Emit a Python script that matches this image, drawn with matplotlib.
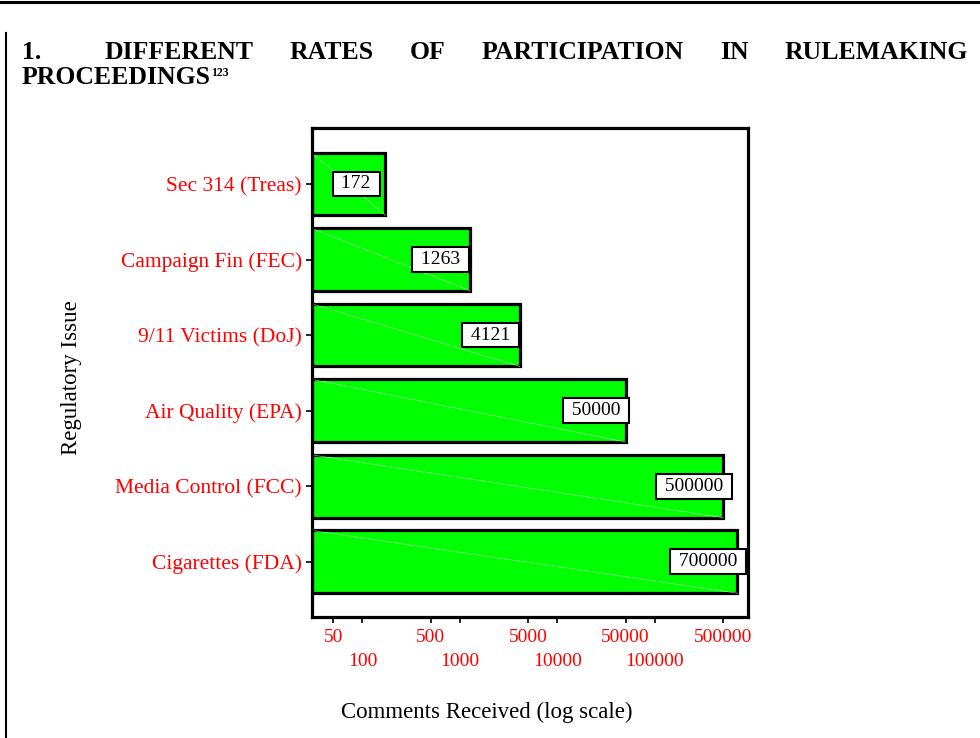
import numpy as np
import matplotlib
matplotlib.use("Agg")
import matplotlib.pyplot as plt
from matplotlib.lines import Line2D

plt.rcParams["font.family"] = ["Liberation Serif", "DejaVu Serif"]

# data
issues = ["Sec 314 (Treas)", "Campaign Fin (FEC)", "9/11 Victims (DoJ)",
          "Air Quality (EPA)", "Media Control (FCC)", "Cigarettes (FDA)"]
comments = [172, 1263, 4121, 50000, 500000, 700000]
ticks_upper = [50, 500, 5000, 50000, 500000]
ticks_lower = [100, 1000, 10000, 100000]
title_num = "1."
title_words = ["DIFFERENT", "RATES", "OF", "PARTICIPATION", "IN", "RULEMAKING"]
title_line2 = "PROCEEDINGS"
footnote = "123"

W, H = 980, 738
fig = plt.figure(figsize=(W / 100, H / 100), dpi=100)

# page rules
fig.add_artist(Line2D([0, 1], [1 - 1.5 / H] * 2, color="black", lw=2.2))
fig.add_artist(Line2D([6 / W] * 2, [0, 1 - 33 / H], color="black", lw=1.5))

# title, justified like the document text
renderer = fig.canvas.get_renderer()
title_kw = dict(fontsize=18.5, fontweight="bold", va="baseline", ha="left")
y1 = 1 - 59 / H
fig.text(22 / W, y1, title_num, **title_kw)
word_texts = [fig.text(0, y1, w, **title_kw) for w in title_words]
widths = [t.get_window_extent(renderer).width for t in word_texts]
x0, x1 = 105, 968
gap = (x1 - x0 - sum(widths)) / (len(widths) - 1)
x = x0
for t, w in zip(word_texts, widths):
    t.set_x(x / W)
    x += w + gap

y2 = 1 - 84 / H
t2 = fig.text(22 / W, y2, title_line2, **title_kw)
w2 = t2.get_window_extent(renderer).width
fig.text((22 + w2) / W, 1 - 76 / H, footnote, fontsize=8.5, fontweight="bold",
         va="baseline", ha="left")

# chart
ax = fig.add_axes([311.5 / W, 1 - 617 / H, (748 - 311.5) / W, (617 - 128) / H])
x_min, x_max = 30, 900000
ypos = np.arange(len(issues))
bar_h = 0.83
vals = np.array(comments, dtype=float)

ax.barh(ypos, vals - x_min, left=x_min, height=bar_h, color="#00ff00",
        edgecolor="black", linewidth=2.3, zorder=1)
for y, v in zip(ypos, vals):
    # faint diagonal streak seen inside each bar
    ax.plot([x_min, v], [y - bar_h / 2, y + bar_h / 2], color="#d8ffd8", lw=0.5,
            alpha=0.7, zorder=2)
    ax.text(v / 2, y, f" {int(v)} ", ha="center", va="center", fontsize=14, zorder=3,
            bbox=dict(boxstyle="square,pad=0.2", fc="white", ec="black", lw=1.5))

ax.set_xscale("log")
ax.set_xlim(x_min, x_max)
ax.set_ylim(len(issues) - 1 + 0.73, -0.74)

ax.set_xticks(ticks_upper, labels=[str(v) for v in ticks_upper])
ax.set_xticks(ticks_lower, labels=[str(v) for v in ticks_lower], minor=True)
ax.tick_params(axis="x", which="both", length=4, width=1.2, labelcolor="red", labelsize=14)
ax.tick_params(axis="x", which="major", pad=5)
ax.tick_params(axis="x", which="minor", pad=22)

ax.set_yticks(ypos, labels=issues)
ax.tick_params(axis="y", length=4, width=1.2, pad=3, labelcolor="red", labelsize=15.5)

for sp in ax.spines.values():
    sp.set_linewidth(2.3)

fig.text(487 / W, 1 - 712 / H, "Comments Received (log scale)", fontsize=16.5,
         ha="center", va="center")
fig.text(71 / W, 1 - 378 / H, "Regulatory Issue", fontsize=16.5, rotation=90,
         ha="center", va="center")

fig.savefig("out.png", dpi=100)
